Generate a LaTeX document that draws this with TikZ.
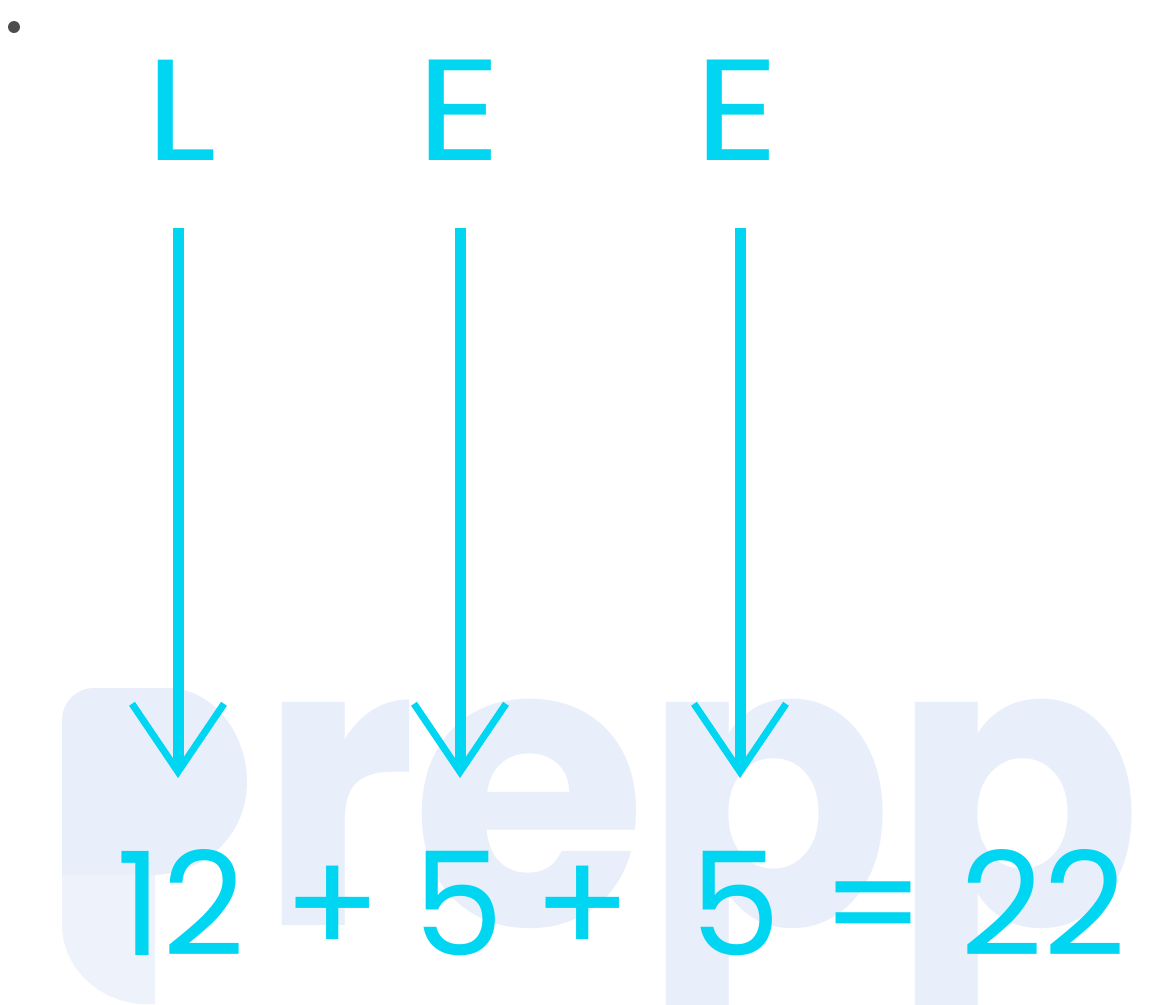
\documentclass[tikz,border=0pt]{standalone}
\usepackage{fontspec}
\setmainfont{Poppins}
\newfontfamily\wmfont{Poppins}[UprightFont=* Bold]
\usetikzlibrary{arrows.meta}
\definecolor{cyantext}{RGB}{0,214,242}
\definecolor{wmblue}{RGB}{232,239,250}
\definecolor{wmlight}{RGB}{238,243,251}
\definecolor{dotgray}{RGB}{77,77,77}
\tikzset{
  letter/.style={anchor=base, inner sep=0pt, text=cyantext, font=\fontsize{144}{144}\selectfont},
  capletter/.style={letter, xscale=1.15},
  wm/.style={anchor=base west, inner sep=0pt, text=wmblue, xscale=0.92, font=\wmfont\fontsize{400}{400}\selectfont},
  downarrow/.style={draw=cyantext, line width=11pt, -{Straight Barb[length=68pt, width=92pt, line width=7pt]}}
}
\begin{document}
\begin{tikzpicture}[x=1pt, y=-1pt]
\useasboundingbox (0,0) rectangle (1159,1004);
% watermark: logo p
\fill[wmlight] (62,873) -- (155,873) -- (155,1004) -- (140,1004)
  .. controls (95,1000) and (62,965) .. (62,925) -- cycle;
\fill[wmblue] (62,875) -- (62,720) arc[start angle=180, end angle=270, radius=32] -- (170,688)
  .. controls (215,690) and (247,735) .. (247,782)
  .. controls (247,835) and (205,875) .. (150,875) -- cycle;
\node[wm] (wr) at (259,925) {r};
\node[wm, xscale=1.04] (we) at (411,925) {e};
\node[wm] (wp2) at (643,925) {p};
\node[wm] (wp3) at (892,925) {p};
% bullet
\fill[dotgray] (14,27) circle (6);
% top letters
\node[capletter] (L) at (181,160) {L};
\node[capletter] (E1) at (459,160) {E};
\node[capletter] (E2) at (737,160) {E};
% bottom equation
\node[letter] (n12) at (181,955) {12};
\node[letter] (plus1) at (333,955) {+};
\node[letter] (n5a) at (459,955) {5};
\node[letter] (plus2) at (583,955) {+};
\node[letter] (n5b) at (736,955) {5};
\node[letter] (eq) at (874,955) {=};
\node[letter] (n22) at (1043,955) {22};
% arrows
\coordinate (a1s) at (178,228); \coordinate (a1e) at (178,778);
\coordinate (a2s) at (460,228); \coordinate (a2e) at (460,778);
\coordinate (a3s) at (740,228); \coordinate (a3e) at (740,778);
\draw[downarrow] (a1s) -- (a1e);
\draw[downarrow] (a2s) -- (a2e);
\draw[downarrow] (a3s) -- (a3e);
\end{tikzpicture}
\end{document}
